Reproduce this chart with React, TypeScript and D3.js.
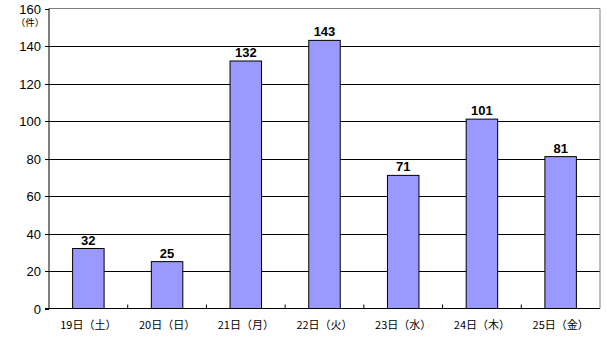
import React from "react";
import * as d3 from "d3";

const categories = ["19日（土）", "20日（日）", "21日（月）", "22日（火）", "23日（水）", "24日（木）", "25日（金）"];
const values = [32, 25, 132, 143, 71, 101, 81];
const yTicks = [0, 20, 40, 60, 80, 100, 120, 140, 160];
const unitLabel = "（件）";

export default function App() {
  const W = 607, H = 350;
  const left = 49, right = 600, top = 8.5, bottom = 308.5;
  const x = d3.scaleBand<string>().domain(categories).range([left, right]).paddingInner(0).paddingOuter(0);
  const y = d3.scaleLinear().domain([0, 160]).range([bottom, top]);
  const bw = x.bandwidth() * 0.4;
  const font = "'Noto Sans CJK JP', 'DejaVu Sans', sans-serif";
  const numFont = "'Liberation Sans', Arial, sans-serif";
  return (
    <svg width={W} height={H} style={{ position: "absolute", left: 0, top: 0, background: "#fff" }}>
      {yTicks.slice(1, -1).map((t) => (
        <line key={t} x1={left} x2={right} y1={Math.round(y(t)) + 0.5} y2={Math.round(y(t)) + 0.5} stroke="#000" strokeWidth={1} />
      ))}
      <line x1={left} x2={right} y1={top} y2={top} stroke="#808080" />
      <line x1={right} x2={right} y1={top} y2={bottom} stroke="#808080" />
      {values.map((v, i) => (
        <rect key={i} x={x(categories[i])! + (x.bandwidth() - bw) / 2} y={y(v)} width={bw} height={bottom - y(v)} fill="#9999ff" stroke="#000" strokeWidth={1} />
      ))}
      <line x1={left} x2={left} y1={top} y2={bottom} stroke="#000" />
      <line x1={left - 4} x2={right} y1={bottom} y2={bottom} stroke="#000" />
      {yTicks.map((t) => (
        <line key={"t" + t} x1={left - 4} x2={left} y1={Math.round(y(t)) + 0.5} y2={Math.round(y(t)) + 0.5} stroke="#000" />
      ))}
      {categories.map((c, i) => i > 0 ? (
        <line key={"c" + i} x1={x(c)!} x2={x(c)!} y1={bottom} y2={bottom - 4} stroke="#000" />
      ) : null)}
      {yTicks.map((t) => (
        <text key={"l" + t} x={41} y={y(t) + 5} textAnchor="end" fontSize={13} fontFamily={numFont}>{t}</text>
      ))}
      <text x={30} y={26} textAnchor="middle" fontSize={9.5} fontFamily={font}>{unitLabel}</text>
      {categories.map((c) => (
        <text key={c} x={x(c)! + x.bandwidth() / 2} y={329} textAnchor="middle" fontSize={11} fontFamily={font}>{c}</text>
      ))}
      {values.map((v, i) => (
        <text key={"v" + i} x={x(categories[i])! + x.bandwidth() / 2} y={y(v) - 4} textAnchor="middle" fontSize={13} fontWeight="bold" fontFamily={numFont}>{v}</text>
      ))}
    </svg>
  );
}
